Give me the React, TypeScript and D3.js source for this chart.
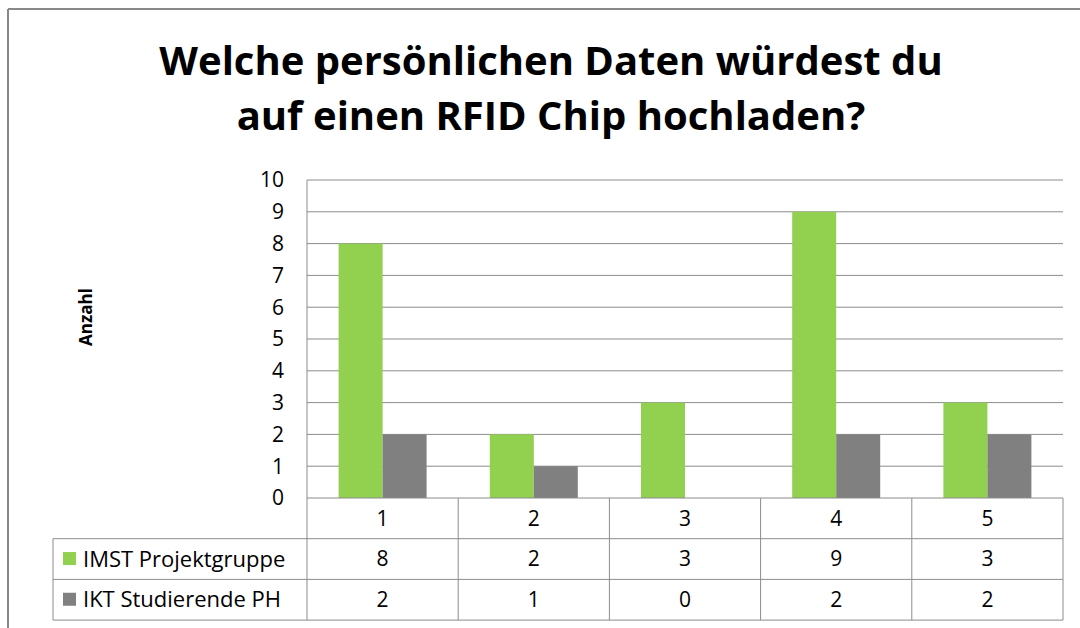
import React from "react";
import * as d3 from "d3";

const categories = ["1", "2", "3", "4", "5"];
const seriesNames = ["IMST Projektgruppe", "IKT Studierende PH"];
const imstValues = [8, 2, 3, 9, 3];
const iktValues = [2, 1, 0, 2, 2];
const yTicks = [0, 1, 2, 3, 4, 5, 6, 7, 8, 9, 10];
const titleLines = ["Welche persönlichen Daten würdest du", "auf einen RFID Chip hochladen?"];
const colors = ["#92d050", "#808080"];

const W = 1080;
const H = 628;
const plot = { left: 307, right: 1063, top: 180, bottom: 498 };
const table = { left: 53 };
const font = "'Open Sans', sans-serif";

export default function App() {
  const series = [imstValues, iktValues];

  const x = d3.scaleBand().domain(categories).range([plot.left, plot.right]).paddingInner(0.418).paddingOuter(0.209);
  const xCol = d3.scaleBand().domain(categories).range([plot.left, plot.right]);
  const xInner = d3.scaleBand().domain(seriesNames).range([0, x.bandwidth()]);
  const y = d3.scaleLinear().domain([0, 10]).range([plot.bottom, plot.top]);

  const gridColor = "#8c8c8c";
  // table rows: header (category) + one per series
  const rowY = (i: number) => plot.bottom + i * 40.7;
  const tableBottom = rowY(3);

  return (
    <svg width={W} height={H} style={{ position: "absolute", left: 0, top: 0, background: "#fff" }}>
      {/* outer frame */}
      <line x1={8} x2={W} y1={9} y2={9} stroke="#888" strokeWidth={2} />
      <line x1={8} x2={8} y1={9} y2={H} stroke="#888" strokeWidth={2} />

      {titleLines.map((t, i) => (
        <text key={t} x={551} y={75 + i * 55} textAnchor="middle" fontFamily={font} fontWeight="bold" fontSize={40} fill="#000">
          {t}
        </text>
      ))}

      {/* gridlines */}
      {yTicks.map(t => (
        <g key={t}>
          {t > 0 && <line x1={plot.left} x2={plot.right} y1={y(t)} y2={y(t)} stroke={gridColor} strokeWidth={1} />}
          <text x={284} y={y(t)} dy="0.35em" textAnchor="end" fontFamily={font} fontSize={21} fill="#000">{t}</text>
        </g>
      ))}

      {/* bars */}
      {categories.map((c, ci) =>
        seriesNames.map((s, si) => (
          <rect
            key={c + s}
            x={(x(c) as number) + (xInner(s) as number)}
            y={y(series[si][ci])}
            width={xInner.bandwidth()}
            height={plot.bottom - y(series[si][ci])}
            fill={colors[si]}
          />
        ))
      )}

      <text transform="translate(92,317) rotate(-90)" textAnchor="middle" fontFamily={font} fontWeight="bold" fontSize={17} fill="#000">
        Anzahl
      </text>

      {/* data table */}
      <line x1={plot.left} x2={plot.left} y1={plot.top} y2={tableBottom} stroke={gridColor} />
      {[0, 1, 2, 3].map(r => (
        <line key={r} x1={r === 0 ? plot.left : table.left} x2={plot.right} y1={rowY(r)} y2={rowY(r)} stroke={gridColor} />
      ))}
      <line x1={table.left} x2={table.left} y1={rowY(1)} y2={tableBottom} stroke={gridColor} />
      {categories.map(c => (
        <line key={c} x1={(xCol(c) as number) + xCol.bandwidth()} x2={(xCol(c) as number) + xCol.bandwidth()} y1={rowY(0)} y2={tableBottom} stroke={gridColor} />
      ))}
      {categories.map(c => (
        <text key={c} x={(xCol(c) as number) + xCol.bandwidth() / 2} y={(rowY(0) + rowY(1)) / 2} dy="0.35em" textAnchor="middle" fontFamily={font} fontSize={21} fill="#000">{c}</text>
      ))}
      {seriesNames.map((s, si) => {
        const cy = (rowY(si + 1) + rowY(si + 2)) / 2;
        return (
          <g key={s}>
            <rect x={63} y={cy - 7} width={13} height={13} fill={colors[si]} />
            <text x={83} y={cy} dy="0.35em" fontFamily={font} fontSize={22} fill="#000">{s}</text>
            {categories.map((c, ci) => (
              <text key={c} x={(xCol(c) as number) + xCol.bandwidth() / 2} y={cy} dy="0.35em" textAnchor="middle" fontFamily={font} fontSize={21} fill="#000">
                {series[si][ci]}
              </text>
            ))}
          </g>
        );
      })}
    </svg>
  );
}
